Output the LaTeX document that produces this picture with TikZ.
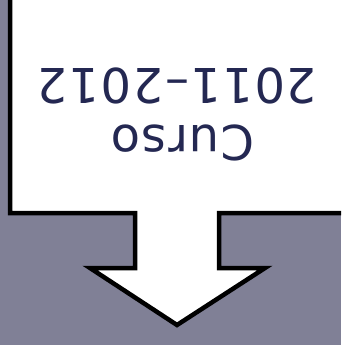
\documentclass[tikz,border=0pt]{standalone}
\usepackage{fontspec}
\setmainfont{DejaVu Sans}
\newfontfamily\calloutfont[LetterSpace=3]{DejaVu Sans}
\definecolor{bggray}{RGB}{128,128,150}
\definecolor{textnavy}{RGB}{36,40,82}
\tikzset{
  calloutshape/.style={draw=black, fill=white, line width=4.5pt, line join=miter},
  callouttext/.style={text=textnavy, font=\calloutfont\fontsize{48}{57}\selectfont, align=center, rotate=180, inner sep=0pt}
}
\begin{document}
\begin{tikzpicture}[x=1pt,y=-1pt]
\fill[bggray] (0,0) rectangle (341,345);
\useasboundingbox (0,0) rectangle (341,345);
\begin{scope}
\clip (0,0) rectangle (341,345);
\draw[calloutshape] (10,-10) -- (10,213) -- (135,213) -- (135,268) -- (90,268) -- (177,325) -- (265,268) -- (219,268) -- (219,213) -- (350,213) -- (350,-10) -- cycle;
\end{scope}
\node[callouttext] (label) at (177,114) {Curso\hspace*{12pt}\\2011–2012};
\end{tikzpicture}
\end{document}
